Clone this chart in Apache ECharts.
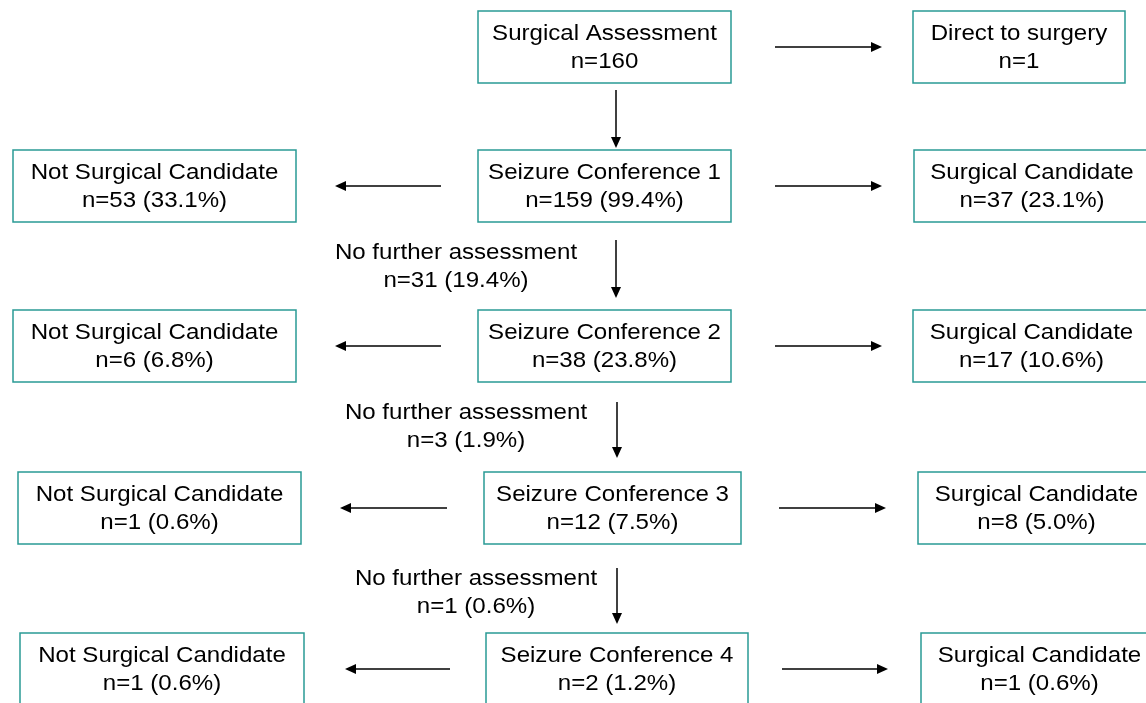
<!DOCTYPE html>
<html>
<head>
<meta charset="utf-8">
<script src="https://cdn.jsdelivr.net/npm/echarts@6/dist/echarts.min.js"></script>
<style>
html,body{margin:0;padding:0;background:#fff;}
#main{width:1146px;height:703px;}
</style>
</head>
<body>
<div id="main"></div>
<script>
// ---- data ----
const stageNames = ['Surgical Assessment', 'Seizure Conference 1', 'Seizure Conference 2', 'Seizure Conference 3', 'Seizure Conference 4'];
const stageN = [160, 159, 38, 12, 2];
const stagePct = [null, '99.4', '23.8', '7.5', '1.2'];
const directName = 'Direct to surgery';
const directN = 1;
const notCandName = 'Not Surgical Candidate';
const notCandN = [53, 6, 1, 1];
const notCandPct = ['33.1', '6.8', '0.6', '0.6'];
const candName = 'Surgical Candidate';
const candN = [37, 17, 8, 1];
const candPct = ['23.1', '10.6', '5.0', '0.6'];
const noFurtherName = 'No further assessment';
const noFurtherN = [31, 3, 1];
const noFurtherPct = ['19.4', '1.9', '0.6'];

// ---- layout (pixel-like coordinates on hidden axes) ----
const rowTop = [11, 150, 310, 472, 633];
const boxH = 72;
const centerBoxX = [[478, 731], [478, 731], [478, 731], [484, 741], [486, 748]];
const leftBoxX = [null, [13, 296], [13, 296], [18, 301], [20, 304]];
const rightBoxX = [[913, 1125], [914, 1150], [913, 1150], [918, 1155], [921, 1158]];
const leftArrowX = [null, [441, 335], [441, 335], [447, 340], [450, 345]];
const rightArrowX = [[775, 882], [775, 882], [775, 882], [779, 886], [782, 888]];
const downArrow = [[616, 90, 148], [616, 240, 298], [617, 402, 458], [617, 568, 624]];
const noFurtherPos = [[456, 267], [466, 427], [476, 593]];

function lbl(name, n, pct) {
  return name + '\n' + 'n=' + n + (pct ? ' (' + pct + '%)' : '');
}

const boxes = [];
for (let i = 0; i < stageNames.length; i++) {
  const y0 = rowTop[i], y1 = rowTop[i] + boxH;
  boxes.push([centerBoxX[i][0], y0, centerBoxX[i][1], y1, lbl(stageNames[i], stageN[i], stagePct[i])]);
  if (i === 0) {
    boxes.push([rightBoxX[0][0], y0, rightBoxX[0][1], y1, lbl(directName, directN, null)]);
  } else {
    boxes.push([leftBoxX[i][0], y0, leftBoxX[i][1], y1, lbl(notCandName, notCandN[i - 1], notCandPct[i - 1])]);
    boxes.push([rightBoxX[i][0], y0, rightBoxX[i][1], y1, lbl(candName, candN[i - 1], candPct[i - 1])]);
  }
}

const arrows = [];
for (let i = 0; i < stageNames.length; i++) {
  const yc = rowTop[i] + boxH / 2;
  arrows.push([rightArrowX[i][0], yc, rightArrowX[i][1], yc]);
  if (leftArrowX[i]) arrows.push([leftArrowX[i][0], yc, leftArrowX[i][1], yc]);
}
downArrow.forEach(d => arrows.push([d[0], d[1], d[0], d[2]]));

const notes = noFurtherN.map((n, i) => [noFurtherPos[i][0], noFurtherPos[i][1], lbl(noFurtherName, n, noFurtherPct[i])]);

const FONT = '"Liberation Sans", Arial, sans-serif';
const TEAL = '#2a9a95';
const SX = 1.07;
const FS = 22.5;

const chart = echarts.init(document.getElementById('main'));
chart.setOption({
  animation: false,
  backgroundColor: '#ffffff',
  grid: { left: 0, right: 0, top: 0, bottom: 0 },
  xAxis: { type: 'value', min: 0, max: 1146, show: false },
  yAxis: { type: 'value', min: 0, max: 703, inverse: true, show: false },
  series: [
    {
      type: 'custom',
      coordinateSystem: 'cartesian2d',
      data: boxes,
      clip: false,
      renderItem: function (params, api) {
        const p0 = api.coord([api.value(0), api.value(1)]);
        const p1 = api.coord([api.value(2), api.value(3)]);
        const d = boxes[params.dataIndex];
        return {
          type: 'group',
          children: [
            { type: 'rect', shape: { x: p0[0], y: p0[1], width: p1[0] - p0[0], height: p1[1] - p0[1] },
              style: { fill: '#fff', stroke: TEAL, lineWidth: 1.5 } },
            { type: 'text', x: (p0[0] + p1[0]) / 2, y: (p0[1] + p1[1]) / 2 + 1, scaleX: SX,
              style: { text: d[4], fontFamily: FONT, fontSize: FS, lineHeight: 28, fill: '#000',
                       align: 'center', verticalAlign: 'middle' } }
          ]
        };
      }
    },
    {
      type: 'custom',
      coordinateSystem: 'cartesian2d',
      data: arrows,
      clip: false,
      renderItem: function (params, api) {
        const a = api.coord([api.value(0), api.value(1)]);
        const b = api.coord([api.value(2), api.value(3)]);
        const dx = b[0] - a[0], dy = b[1] - a[1];
        const len = Math.sqrt(dx * dx + dy * dy);
        const ux = dx / len, uy = dy / len;
        const hl = 11, hw = 5;
        const bx = b[0] - ux * hl, by = b[1] - uy * hl;
        return {
          type: 'group',
          children: [
            { type: 'line', shape: { x1: a[0], y1: a[1], x2: bx, y2: by },
              style: { stroke: '#000', lineWidth: 1.5 } },
            { type: 'polygon', shape: { points: [[b[0], b[1]], [bx - uy * hw, by + ux * hw], [bx + uy * hw, by - ux * hw]] },
              style: { fill: '#000' } }
          ]
        };
      }
    },
    {
      type: 'custom',
      coordinateSystem: 'cartesian2d',
      data: notes,
      clip: false,
      renderItem: function (params, api) {
        const p = api.coord([api.value(0), api.value(1)]);
        return { type: 'text', x: p[0], y: p[1], scaleX: SX,
          style: { text: notes[params.dataIndex][2], fontFamily: FONT, fontSize: FS, lineHeight: 28,
                   fill: '#000', align: 'center', verticalAlign: 'middle' } };
      }
    }
  ]
});
</script>
</body>
</html>
